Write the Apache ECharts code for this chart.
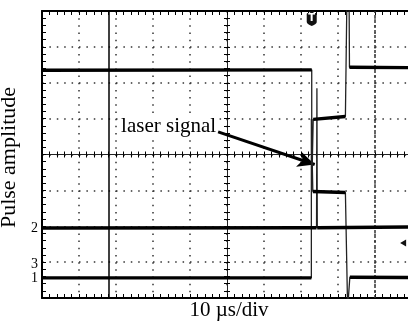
<!DOCTYPE html>
<html><head><meta charset="utf-8">
<script src="https://cdn.jsdelivr.net/npm/echarts@6/dist/echarts.min.js"></script>
<style>html,body{margin:0;padding:0;background:#fff}#c{width:408px;height:321px}</style>
</head><body><div id="c"></div>
<script>
// ---- data (units: screen divisions) ----
const xRange = [0, 10];
const yRange = [0, 8];
const traceTop = [[0,6.35],[7.29,6.36],[7.29,3.0],[7.33,4.98],[8.20,5.06],[8.24,8.3],[8.30,8.3],[8.31,6.43],[10,6.42]];
const traceMid = [[0,1.95],[7.42,1.96],[7.43,5.85],[7.44,1.96],[10,1.98]];
const traceLow = [[0,0.56],[7.28,0.56],[7.28,5.0],[7.32,2.97],[8.20,2.94],[8.25,2.9],[8.26,-0.3],[8.31,-0.3],[8.32,0.58],[10,0.57]];
const channelLabels = ['2', '3', '1'];
const channelLevels = [1.95, 0.95, 0.56];
const cursorSolidX = 1.81;
const cursorDashedX = 9.0;
const triggerAt = [7.29, 7.76];
const triggerCaretAt = [7.29, 7.95];
const refMarkerAt = [9.76, 1.53];
const annotationText = 'laser signal';
const annotationAt = [2.11, 4.78];
const arrowFrom = [4.76, 4.63];
const arrowTo = [7.37, 3.72];
const xTitle = '10 µs/div';
const yTitle = 'Pulse amplitude';

const serif = 'Liberation Serif';
const chart = echarts.init(document.getElementById('c'), null, {renderer: 'canvas'});

function flatSegments(pts) {
  const out = [];
  for (let i = 0; i < pts.length - 1; i++) {
    if (Math.abs(pts[i+1][0] - pts[i][0]) > 0.3) out.push([pts[i], pts[i+1]]);
  }
  return out;
}

const series = [];
[traceTop, traceMid, traceLow].forEach(function (tr) {
  series.push({type: 'line', data: tr, showSymbol: false, symbol: 'none', clip: true,
    lineStyle: {color: '#222', width: 1.3}, z: 5, animation: false});
  flatSegments(tr).forEach(function (seg) {
    series.push({type: 'line', data: seg, showSymbol: false, symbol: 'none', clip: true,
      lineStyle: {color: '#000', width: 3.4}, z: 6, animation: false});
  });
});

series[0].markLine = {
  silent: true, animation: false, symbol: ['none', 'none'],
  label: {show: false},
  data: [
    {xAxis: cursorSolidX, lineStyle: {color: '#000', width: 1.5, type: 'solid'}},
    {xAxis: cursorDashedX, lineStyle: {color: '#333', width: 1.5, type: [3, 2]}},
    [{coord: arrowFrom, symbol: 'none'},
     {coord: arrowTo, symbol: 'arrow', symbolSize: [12, 17], lineStyle: {color: '#000', width: 3, type: 'solid'}}]
  ]
};
series[0].markPoint = {
  silent: true, animation: false,
  data: [
    {coord: triggerAt, symbol: 'path://M1,0 L9,0 Q10,0 10,1 L10,9 Q10,11 5,13 Q0,11 0,9 L0,1 Q0,0 1,0 Z',
     symbolSize: [10, 13], itemStyle: {color: '#111'},
     label: {show: true, formatter: 'T', color: '#fff', fontSize: 10, fontWeight: 'bold', fontFamily: 'DejaVu Sans', position: 'inside', offset: [0, -1]}},
    {coord: triggerCaretAt, symbol: 'triangle', symbolRotate: 180, symbolSize: [6, 3], itemStyle: {color: '#111'}, label: {show: false}},
    {coord: refMarkerAt, symbol: 'triangle', symbolRotate: 90, symbolSize: [7, 6], itemStyle: {color: '#111'}, label: {show: false}},
    {coord: annotationAt, symbol: 'circle', symbolSize: 0,
     label: {show: true, formatter: annotationText, position: 'right', distance: 0, color: '#000',
       fontFamily: serif, fontSize: 21, backgroundColor: '#fff', padding: [0, 1, 0, 1]}}
  ]
};

const tickCommon = {lineStyle: {color: '#000', width: 1}};
const dotV = {color: '#333', width: 1.5, type: [1.5, 5.675]};
const dotH = {color: '#333', width: 1.5, type: [1.5, 5.9]};

chart.setOption({
  animation: false,
  backgroundColor: '#fff',
  grid: {left: 42, top: 11, width: 370, height: 287, containLabel: false, outerBoundsMode: 'none'},
  xAxis: [
    {type: 'value', min: xRange[0], max: xRange[1], interval: 1, position: 'bottom',
     axisLine: {show: true, onZero: false, lineStyle: {color: '#000', width: 2}},
     axisTick: {show: true, inside: true, length: 4, lineStyle: tickCommon.lineStyle},
     minorTick: {show: true, splitNumber: 5, length: 4, lineStyle: tickCommon.lineStyle},
     axisLabel: {show: false},
     splitLine: {show: true, lineStyle: dotV},
     name: xTitle, nameLocation: 'middle', nameGap: 2,
     nameTextStyle: {fontFamily: serif, fontSize: 21, color: '#000', verticalAlign: 'top', padding: [0, 0, 0, 4]}},
    {type: 'value', min: xRange[0], max: xRange[1], interval: 1, position: 'top',
     axisLine: {show: true, onZero: false, lineStyle: {color: '#000', width: 2}},
     axisTick: {show: true, inside: true, length: 4, lineStyle: tickCommon.lineStyle},
     minorTick: {show: true, splitNumber: 5, length: 4, lineStyle: tickCommon.lineStyle},
     axisLabel: {show: false}, splitLine: {show: false}},
    {type: 'value', min: xRange[0], max: xRange[1], interval: 1, position: 'bottom', offset: -143.5,
     axisLine: {show: true, onZero: false, lineStyle: {color: '#222', width: 1}},
     axisTick: {show: true, inside: true, length: 3, lineStyle: tickCommon.lineStyle},
     minorTick: {show: true, splitNumber: 5, length: 3, lineStyle: tickCommon.lineStyle},
     axisLabel: {show: false}, splitLine: {show: false}},
    {type: 'value', min: xRange[0], max: xRange[1], interval: 1, position: 'bottom', offset: -143.5,
     axisLine: {show: false, onZero: false},
     axisTick: {show: true, inside: false, length: 3, lineStyle: tickCommon.lineStyle},
     minorTick: {show: true, splitNumber: 5, length: 3, lineStyle: tickCommon.lineStyle},
     axisLabel: {show: false}, splitLine: {show: false}}
  ],
  yAxis: [
    {type: 'value', min: yRange[0], max: yRange[1], interval: 1, position: 'left',
     axisLine: {show: true, onZero: false, lineStyle: {color: '#000', width: 2}},
     axisTick: {show: true, inside: true, length: 4, lineStyle: tickCommon.lineStyle},
     minorTick: {show: true, splitNumber: 5, length: 4, lineStyle: tickCommon.lineStyle},
     axisLabel: {show: true, margin: 4, fontFamily: serif, fontSize: 14, color: '#000',
       hideOverlap: false, showMinLabel: true, showMaxLabel: true,
       customValues: channelLevels,
       formatter: function (v) {
         let best = 0, d = 1e9;
         channelLevels.forEach(function (c, i) { if (Math.abs(c - v) < d) { d = Math.abs(c - v); best = i; } });
         return channelLabels[best];
       }},
     splitLine: {show: true, lineStyle: dotH},
     name: yTitle, nameLocation: 'middle', nameGap: 14, nameRotate: 90,
     nameTextStyle: {fontFamily: serif, fontSize: 22, color: '#000', padding: [0, 0, 0, -6]}},
    {type: 'value', min: yRange[0], max: yRange[1], interval: 1, position: 'left', offset: -185,
     axisLine: {show: true, onZero: false, lineStyle: {color: '#222', width: 1}},
     axisTick: {show: true, inside: true, length: 3, lineStyle: tickCommon.lineStyle},
     minorTick: {show: true, splitNumber: 5, length: 3, lineStyle: tickCommon.lineStyle},
     axisLabel: {show: false}, splitLine: {show: false}},
    {type: 'value', min: yRange[0], max: yRange[1], interval: 1, position: 'left', offset: -185,
     axisLine: {show: false, onZero: false},
     axisTick: {show: true, inside: false, length: 3, lineStyle: tickCommon.lineStyle},
     minorTick: {show: true, splitNumber: 5, length: 3, lineStyle: tickCommon.lineStyle},
     axisLabel: {show: false}, splitLine: {show: false}}
  ],
  series: series
});
</script></body></html>
